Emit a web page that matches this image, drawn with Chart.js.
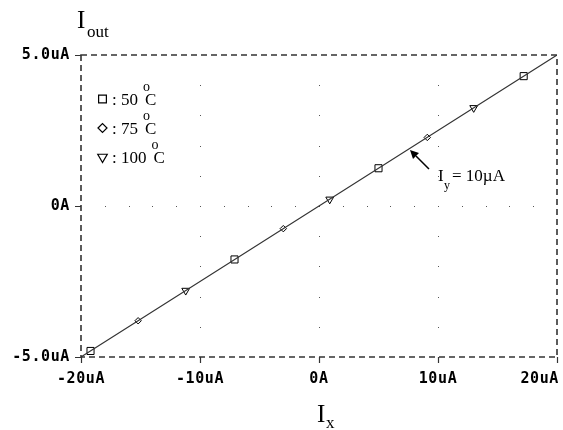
<!DOCTYPE html>
<html>
<head>
<meta charset="utf-8">
<script src="https://cdn.jsdelivr.net/npm/chart.js@4"></script>
<style>
  html, body { margin: 0; padding: 0; background: #fff; }
  #box { width: 563px; height: 430px; position: relative; }
</style>
</head>
<body>
<div id="box"><canvas id="chartJS"></canvas></div>
<script>
// Iout vs Ix, Iy = 10uA
const ixLine = [-20, -10, 0, 10, 20];
const ioutLine = [-5.0, -2.5, 0.0, 2.5, 5.0];

// markers per temperature
const x50 = [-19.2, -7.1, 5.0, 17.2];
const y50 = [-4.8, -1.77, 1.25, 4.3];
const x75 = [-15.2, -3.0, 9.1];
const y75 = [-3.8, -0.75, 2.27];
const x100 = [-11.2, 0.9, 13.0];
const y100 = [-2.8, 0.22, 3.25];

const xTicks = [-20, -10, 0, 10, 20];
const xTickLabels = ['-20uA', '-10uA', '0A', '10uA', '20uA'];
const yTicks = [5, 0, -5];
const yTickLabels = ['5.0uA', '0A', '-5.0uA'];

const legendItems = [
  { style: 'rect', temp: ': 50', r: 5.5 },
  { style: 'rectRot', temp: ': 75', r: 4.5 },
  { style: 'triangle', temp: ': 100', r: 5.5 }
];

const pts = (xs, ys) => xs.map((x, i) => ({ x: x, y: ys[i] }));

const tickFont = 'bold 15px "DejaVu Sans Mono", monospace';
const serif = '"Liberation Serif", "Times New Roman", serif';

const frame = {
  id: 'frame',
  beforeDatasetsDraw(chart) {
    const { ctx, chartArea: a, scales: { x, y } } = chart;
    ctx.save();
    // dotted grid
    ctx.fillStyle = '#555';
    [-10, 0, 10].forEach(v => {
      const px = Math.round(x.getPixelForValue(v));
      for (let k = -4; k <= 4; k++) {
        const py = Math.round(y.getPixelForValue(k));
        ctx.fillRect(px, py, 1, 1);
      }
    });
    for (let v = -18; v <= 18; v += 2) {
      const px = Math.round(x.getPixelForValue(v));
      ctx.fillRect(px, Math.round(y.getPixelForValue(0)), 1, 1);
    }
    // dashed frame
    ctx.strokeStyle = '#333';
    ctx.lineWidth = 1.6;
    ctx.setLineDash([6, 4]);
    ctx.strokeRect(a.left, a.top, a.right - a.left, a.bottom - a.top);
    ctx.setLineDash([]);
    // ticks
    ctx.lineWidth = 1.2;
    ctx.beginPath();
    xTicks.forEach(v => {
      const px = Math.round(x.getPixelForValue(v)) + 0.5;
      ctx.moveTo(px, a.bottom);
      ctx.lineTo(px, a.bottom + 6);
    });
    yTicks.forEach(v => {
      const py = Math.round(y.getPixelForValue(v)) + 0.5;
      ctx.moveTo(a.left - 6, py);
      ctx.lineTo(a.left, py);
    });
    ctx.stroke();
    ctx.restore();
  },
  afterDraw(chart) {
    const { ctx, chartArea: a, scales: { x, y } } = chart;
    ctx.save();
    ctx.fillStyle = '#000';
    ctx.font = tickFont;
    ctx.letterSpacing = '0.6px';
    ctx.textBaseline = 'middle';
    ctx.textAlign = 'left';
    xTicks.forEach((v, i) => {
      const w = ctx.measureText(xTickLabels[i]).width;
      let left = x.getPixelForValue(v) - w / 2;
      if (left + w > chart.width - 4) left = chart.width - 4 - w;
      if (left < 0) left = 0;
      ctx.fillText(xTickLabels[i], left, a.bottom + 22);
    });
    yTicks.forEach((v, i) => {
      const w = ctx.measureText(yTickLabels[i]).width;
      ctx.fillText(yTickLabels[i], Math.max(0, a.left - 11 - w), y.getPixelForValue(v));
    });
    ctx.letterSpacing = '0px';

    // axis titles
    ctx.textBaseline = 'alphabetic';
    ctx.font = '25px ' + serif;
    ctx.fillText('I', 77, 28);
    ctx.font = '17px ' + serif;
    ctx.fillText('out', 87, 37);
    ctx.font = '25px ' + serif;
    ctx.fillText('I', 317, 422);
    ctx.font = '17px ' + serif;
    ctx.fillText('x', 326, 428);

    // legend
    legendItems.forEach((it, i) => {
      const cy = 99 + i * 29;
      ctx.strokeStyle = '#000';
      ctx.fillStyle = '#fff';
      ctx.lineWidth = 1.2;
      Chart.helpers.drawPoint(ctx, {
        pointStyle: it.style, radius: it.r, borderWidth: 1.2,
        rotation: it.style === 'triangle' ? 180 : 0
      }, 102.5, cy);
      ctx.fillStyle = '#000';
      ctx.font = '17px ' + serif;
      ctx.fillText(it.temp, 112, cy + 6);
      const cx = 112 + ctx.measureText(it.temp).width + 7;
      ctx.fillText('C', cx, cy + 6);
      ctx.font = '14px ' + serif;
      ctx.fillText('o', cx - 2, cy - 8);
    });

    // annotation
    ctx.font = '17px ' + serif;
    ctx.fillText('I', 438, 181);
    ctx.font = '12px ' + serif;
    ctx.fillText('y', 444, 189);
    ctx.font = '17px ' + serif;
    ctx.fillText('= 10\u00b5A', 452, 181);
    ctx.strokeStyle = '#000';
    ctx.lineWidth = 1.5;
    ctx.beginPath();
    ctx.moveTo(429, 169);
    ctx.lineTo(416, 156);
    ctx.stroke();
    ctx.beginPath();
    ctx.moveTo(410, 150);
    ctx.lineTo(419, 153);
    ctx.lineTo(413, 159);
    ctx.closePath();
    ctx.fillStyle = '#000';
    ctx.fill();
    ctx.restore();
  }
};

const markerSet = (d, style, r) => ({
  data: d,
  showLine: false,
  pointStyle: style,
  pointRadius: r,
  pointRotation: style === 'triangle' ? 180 : 0,
  pointBorderColor: '#000',
  pointBackgroundColor: '#fff',
  pointBorderWidth: 1
});

new Chart(document.getElementById('chartJS'), {
  type: 'scatter',
  data: {
    datasets: [
      {
        label: 'Iy = 10uA',
        data: pts(ixLine, ioutLine),
        showLine: true,
        borderColor: '#333',
        borderWidth: 1.1,
        pointRadius: 0
      },
      markerSet(pts(x50, y50), 'rect', 5),
      markerSet(pts(x75, y75), 'rectRot', 3.2),
      markerSet(pts(x100, y100), 'triangle', 4.5)
    ]
  },
  options: {
    animation: false,
    responsive: true,
    maintainAspectRatio: false,
    layout: { padding: { left: 81, right: 6, top: 55, bottom: 73 } },
    plugins: { legend: { display: false }, tooltip: { enabled: false } },
    scales: {
      x: { type: 'linear', min: -20, max: 20, display: false },
      y: { type: 'linear', min: -5, max: 5, display: false }
    }
  },
  plugins: [frame]
});
</script>
</body>
</html>
